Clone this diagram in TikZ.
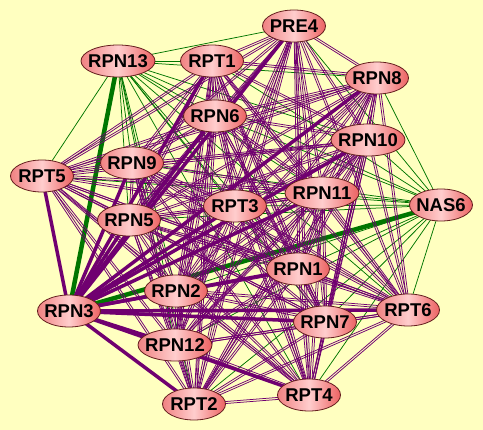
\documentclass[tikz,border=0pt]{standalone}
\usepackage{fontspec}
\setmainfont{Liberation Sans}
\usetikzlibrary{shapes.geometric,calc}
\pgfdeclarelayer{bglayer}
\pgfdeclarelayer{edgelayer}
\pgfsetlayers{bglayer,edgelayer,main}
\definecolor{bgc}{RGB}{255,255,192}
\definecolor{pur}{RGB}{112,0,112}
\definecolor{grn}{RGB}{0,118,0}
\definecolor{nl}{RGB}{240,130,130}
\definecolor{nm}{RGB}{255,205,205}
\definecolor{nr}{RGB}{236,98,98}
\definecolor{nb}{RGB}{100,30,30}
\tikzset{
  prot/.style={ellipse, draw=nb, line width=0.8pt, minimum height=32pt, inner sep=0pt,
    left color=nl, right color=nr, middle color=nm,
    font=\bfseries\fontsize{18.5}{20}\selectfont, text=black},
  wide/.style={prot, minimum width=74pt},
  narrow/.style={prot, minimum width=63pt},
  thinp/.style={draw=pur, line width=0.75pt},
  thing/.style={draw=grn, line width=0.75pt},
  thickp/.style={draw=pur, line width=3.5pt},
  thickg/.style={draw=grn, line width=4.5pt}
}
\newcommand{\lbl}[1]{\makebox[0pt]{#1}}
\begin{document}
\begin{tikzpicture}[x=1pt,y=-1pt]
\begin{pgfonlayer}{bglayer}
\fill[bgc] (0,0) rectangle (483,430);
\end{pgfonlayer}
\useasboundingbox (0,0) rectangle (483,430);
\node[narrow] (PRE4)  at (294,26)  {\lbl{PRE4}};
\node[wide]   (RPN13) at (118,61)  {\lbl{RPN13}};
\node[narrow] (RPT1)  at (212,61)  {\lbl{RPT1}};
\node[narrow] (RPN8)  at (377,78)  {\lbl{RPN8}};
\node[narrow] (RPN6)  at (215,116) {\lbl{RPN6}};
\node[wide]   (RPN10) at (368,140) {\lbl{RPN10}};
\node[narrow] (RPN9)  at (132,163) {\lbl{RPN9}};
\node[narrow] (RPT5)  at (42,176)  {\lbl{RPT5}};
\node[wide]   (RPN11) at (322,193) {\lbl{RPN11}};
\node[narrow] (NAS6)  at (441,205) {\lbl{NAS6}};
\node[narrow] (RPT3)  at (235,206) {\lbl{RPT3}};
\node[narrow] (RPN5)  at (129,220) {\lbl{RPN5}};
\node[narrow] (RPN1)  at (298,269) {\lbl{RPN1}};
\node[narrow] (RPN2)  at (176,291) {\lbl{RPN2}};
\node[narrow] (RPN3)  at (69,311)  {\lbl{RPN3}};
\node[narrow] (RPT6)  at (408,310) {\lbl{RPT6}};
\node[narrow] (RPN7)  at (325,322) {\lbl{RPN7}};
\node[wide]   (RPN12) at (175,345) {\lbl{RPN12}};
\node[narrow] (RPT4)  at (309,395) {\lbl{RPT4}};
\node[narrow] (RPT2)  at (194,404) {\lbl{RPT2}};
\def\names{RPN13,NAS6,RPN3,PRE4,RPT1,RPN8,RPN6,RPN10,RPT5,RPN9,RPN11,RPN5,RPT3,RPN1,RPN2,RPT6,RPN7,RPN12,RPT4,RPT2}
\begin{pgfonlayer}{edgelayer}
\foreach \a [count=\i] in \names {
  \foreach \b [count=\j] in \names {
    \ifnum\j>\i
      \ifnum\i<3
        \ifnum\j=3
          \path[thickg] (\a.center) -- (\b.center);
        \else
          \path[thing] (\a.center) -- (\b.center);
        \fi
      \else\ifnum\i=3
          \path[thickp] (\a.center) -- (\b.center);
        \else
          \path[thinp] (\a.center) -- (\b.center);
          \path[thinp] ($(\a.center)!2pt!90:(\b.center)$) -- ($(\b.center)!2pt!-90:(\a.center)$);
        \fi\fi
    \fi
  }
}
\end{pgfonlayer}
\end{tikzpicture}
\end{document}
